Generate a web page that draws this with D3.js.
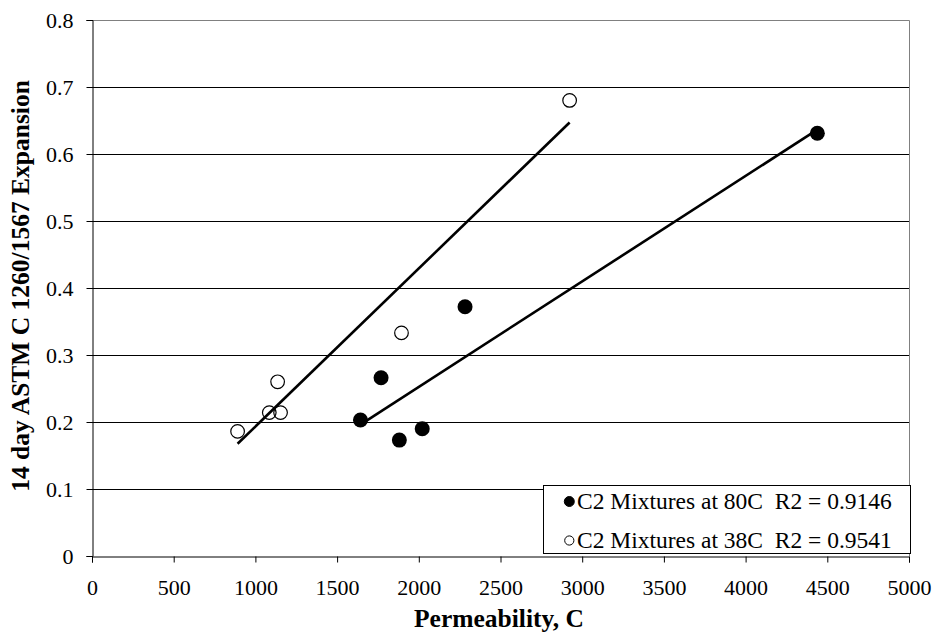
<!DOCTYPE html>
<html>
<head>
<meta charset="utf-8">
<script src="https://cdn.jsdelivr.net/npm/d3@7"></script>
<style>
  body { margin: 0; background: #fff; }
  svg { display: block; }
  svg text { font-family: "Liberation Serif", "Times New Roman", serif; }
</style>
</head>
<body>
<svg width="937" height="641"></svg>
<script>
// permeability (C) and 14 day expansion
var hot80X = [1643, 1769, 1881, 2021, 2283, 4439];
var hot80Y = [0.203, 0.266, 0.173, 0.190, 0.372, 0.631];
var cool38X = [891, 1085, 1154, 1136, 1894, 2923];
var cool38Y = [0.186, 0.214, 0.214, 0.260, 0.333, 0.680];

var seriesNames = ["C2 Mixtures at 80C  R2 = 0.9146", "C2 Mixtures at 38C  R2 = 0.9541"];
var xTicks = [0, 500, 1000, 1500, 2000, 2500, 3000, 3500, 4000, 4500, 5000];
var yTicks = [0, 0.1, 0.2, 0.3, 0.4, 0.5, 0.6, 0.7, 0.8];

var margin = { top: 20, right: 28, bottom: 85, left: 92 };
var svgWidth = 937, svgHeight = 641;
var width = svgWidth - margin.left - margin.right;
var height = svgHeight - margin.top - margin.bottom;

var svg = d3.select("svg");
var g = svg.append("g")
  .attr("transform", "translate(" + margin.left + "," + margin.top + ")");

var x = d3.scaleLinear().domain([0, 5000]).range([0, width]);
var y = d3.scaleLinear().domain([0, 0.8]).range([height, 0]);

// gridlines
g.selectAll(".grid")
  .data(yTicks.filter(function (d) { return d > 0 && d < 0.8; }))
  .enter().append("line")
  .attr("x1", 0).attr("x2", width)
  .attr("y1", function (d) { return Math.round(y(d)) + 0.5; })
  .attr("y2", function (d) { return Math.round(y(d)) + 0.5; })
  .attr("stroke", "#000").attr("stroke-width", 1);

// plot area border (top and right, grey)
g.append("path")
  .attr("d", "M0," + (Math.round(y(0.8)) + 0.5) + "H" + (Math.round(x(5000)) + 0.5) + "V" + height)
  .attr("fill", "none").attr("stroke", "#808080").attr("stroke-width", 1);

// axes
var xAxis = g.append("g")
  .attr("transform", "translate(0," + (height + 0.5) + ")")
  .call(d3.axisBottom(x).tickValues(xTicks).tickSize(6).tickPadding(12)
    .tickFormat(d3.format("d")));
var yAxis = g.append("g")
  .attr("transform", "translate(0.5,0)")
  .call(d3.axisLeft(y).tickValues(yTicks).tickSize(6).tickPadding(13)
    .tickFormat(function (d) { return d === 0 ? "0" : d3.format(".1f")(d); }));

[xAxis, yAxis].forEach(function (a) {
  a.attr("font-family", null).attr("font-size", null);
  a.selectAll("path, line").attr("stroke", "#000");
  a.selectAll("text").style("font-size", "22px").attr("fill", "#000");
});
yAxis.selectAll("text").attr("dy", "0.34em");
xAxis.selectAll("text").attr("y", 38.5).attr("dy", 0);

// least squares trend lines across each series' x range
function fitLine(xs, ys) {
  var mx = d3.mean(xs), my = d3.mean(ys);
  var sxy = d3.sum(xs, function (v, i) { return (v - mx) * (ys[i] - my); });
  var sxx = d3.sum(xs, function (v) { return (v - mx) * (v - mx); });
  var b = sxy / sxx, a = my - b * mx;
  var ext = d3.extent(xs);
  return ext.map(function (v) { return { x: v, y: a + b * v }; });
}

var line = d3.line()
  .x(function (d) { return x(d.x); })
  .y(function (d) { return y(d.y); });

[fitLine(cool38X, cool38Y), fitLine(hot80X, hot80Y)].forEach(function (pts) {
  g.append("path")
    .datum(pts)
    .attr("d", line)
    .attr("fill", "none")
    .attr("stroke", "#000")
    .attr("stroke-width", 2.6);
});

// points
g.selectAll(".p38")
  .data(d3.range(cool38X.length))
  .enter().append("circle")
  .attr("cx", function (i) { return x(cool38X[i]); })
  .attr("cy", function (i) { return y(cool38Y[i]); })
  .attr("r", 6.8)
  .attr("fill", "none")
  .attr("stroke", "#000")
  .attr("stroke-width", 1.2);

g.selectAll(".p80")
  .data(d3.range(hot80X.length))
  .enter().append("circle")
  .attr("cx", function (i) { return x(hot80X[i]); })
  .attr("cy", function (i) { return y(hot80Y[i]); })
  .attr("r", 7.5)
  .attr("fill", "#000");

// legend
var legend = svg.append("g").attr("transform", "translate(543,485)");
legend.append("rect")
  .attr("x", 0.5).attr("y", 0.5)
  .attr("width", 367).attr("height", 68)
  .attr("fill", "#fff").attr("stroke", "#000").attr("stroke-width", 1);

seriesNames.forEach(function (name, i) {
  var row = legend.append("g").attr("transform", "translate(0," + (24 + i * 39) + ")");
  row.append("circle")
    .attr("cx", 26.3).attr("cy", -7.5)
    .attr("r", i === 0 ? 5 : 4.6)
    .attr("fill", i === 0 ? "#000" : "#fff")
    .attr("stroke", "#000").attr("stroke-width", 1);
  row.append("text")
    .attr("x", 34).attr("y", 0)
    .style("font-size", "23.5px")
    .style("white-space", "pre")
    .text(name);
});

// axis titles
svg.append("text")
  .attr("x", 499)
  .attr("y", 627)
  .attr("text-anchor", "middle")
  .style("font-size", "25.5px")
  .style("font-weight", "bold")
  .text("Permeability, C");

svg.append("text")
  .attr("transform", "translate(29,286) rotate(-90)")
  .attr("text-anchor", "middle")
  .style("font-size", "25.5px")
  .style("font-weight", "bold")
  .text("14 day ASTM C 1260/1567 Expansion");
</script>
</body>
</html>
